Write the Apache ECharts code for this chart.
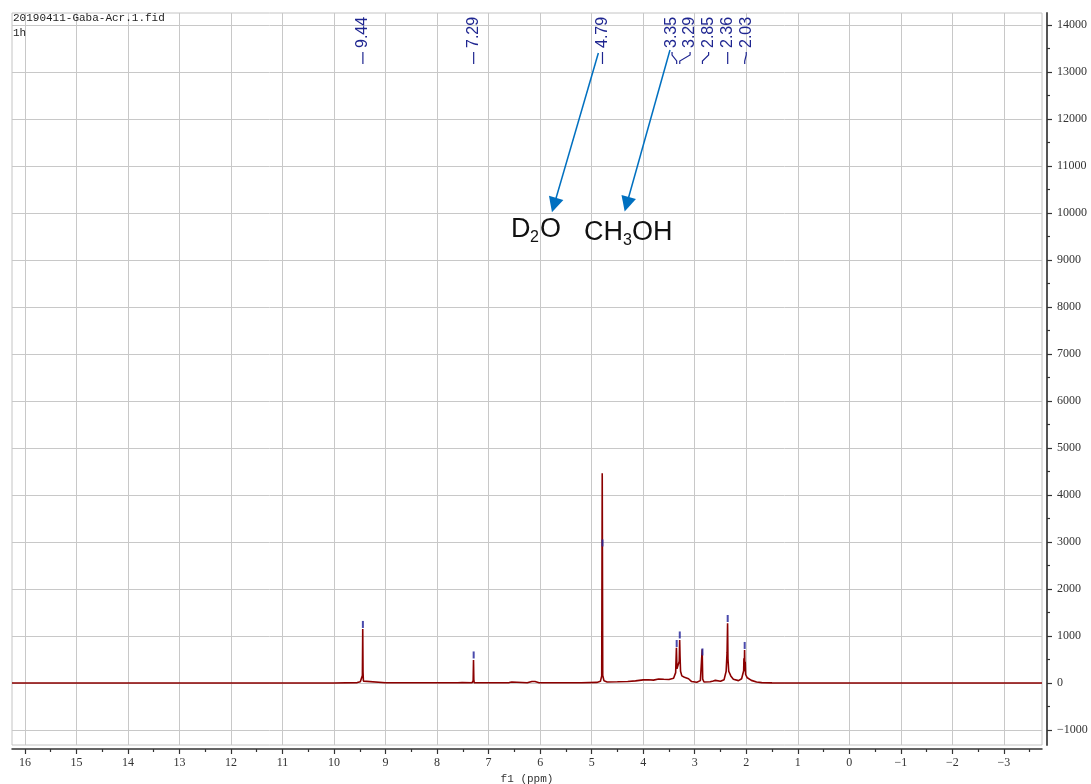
<!DOCTYPE html>
<html><head><meta charset="utf-8">
<script src="https://cdn.jsdelivr.net/npm/echarts@6/dist/echarts.min.js"></script>
<style>html,body{margin:0;padding:0;background:#fff}#c{width:1091px;height:784px}</style>
</head><body><div id="c"></div>
<script>
// spectrum (chemical shift in ppm, intensity)
const shift = [16.25,10.00,9.55,9.49,9.46,9.45,9.443,9.437,9.43,9.40,9.00,7.60,7.515,7.505,7.495,7.32,7.30,7.293,7.287,7.28,7.00,6.60,6.55,6.54,6.25,6.16,6.13,6.10,6.02,5.20,4.90,4.83,4.805,4.795,4.785,4.76,4.70,4.50,4.30,4.15,4.00,3.90,3.80,3.70,3.60,3.50,3.41,3.37,3.355,3.345,3.33,3.30,3.292,3.285,3.275,3.25,3.20,3.12,3.06,2.96,2.89,2.855,2.845,2.82,2.70,2.64,2.60,2.57,2.50,2.43,2.39,2.372,2.362,2.355,2.34,2.30,2.25,2.15,2.09,2.05,2.045,2.038,2.032,2.025,2.02,2.012,1.98,1.90,1.80,1.70,1.50,-3.74];
const intensity = [0,0,8,25,60,160,1150,220,40,8,3,3,8,40,8,6,50,490,70,8,5,8,20,5,5,30,55,30,6,5,12,35,150,4460,160,45,22,25,30,45,65,68,60,85,78,75,100,220,750,300,280,460,915,570,250,150,120,90,30,15,50,717,80,20,25,40,55,30,35,70,250,650,1270,520,250,150,80,50,90,260,525,250,700,280,453,180,110,55,20,8,2,0];
// peak picking
const peakLabels = ['9.44','7.29','4.79','3.35','3.29','2.85','2.36','2.03'];
const peakShift = [9.44,7.29,4.79,3.35,3.29,2.85,2.36,2.03];
const labelShift = [9.44,7.29,4.79,3.44,3.09,2.73,2.36,2.00];
const markerHeight = [1245,596,2979,840,1021,660,1372,798];
// axes
const xTicks = [16,15,14,13,12,11,10,9,8,7,6,5,4,3,2,1,0,-1,-2,-3];
const xMinor = [15.5,14.5,13.5,12.5,11.5,10.5,9.5,8.5,7.5,6.5,5.5,4.5,3.5,2.5,1.5,0.5,-0.5,-1.5,-2.5,-3.5];
const yTicks = [-1000,0,1000,2000,3000,4000,5000,6000,7000,8000,9000,10000,11000,12000,13000,14000];
const yMinor = [-500,500,1500,2500,3500,4500,5500,6500,7500,8500,9500,10500,11500,12500,13500];
const fileName = '20190411-Gaba-Acr.1.fid';
const nucleus = '1h';
const xName = 'f1 (ppm)';

const X_MIN = -3.74, X_MAX = 16.25, Y_MIN = -1320, Y_MAX = 14255;
const fmt = v => v < 0 ? '\u2212' + Math.abs(v) : String(v);
const serif = 'Liberation Serif';
const blue = '#0070c0';
const navy = '#1e2590';

const chart = echarts.init(document.getElementById('c'), null, {renderer: 'canvas'});
const spec = shift.map((s, i) => [s, intensity[i]]);
const markers = peakShift.map((s, i) => [s, markerHeight[i]]);

const xBase = {type: 'value', min: X_MIN, max: X_MAX, inverse: true, position: 'bottom', offset: 4, gridIndex: 0};
const yBase = {type: 'value', min: Y_MIN, max: Y_MAX, position: 'right', offset: 5, gridIndex: 0};

chart.setOption({
  animation: false,
  backgroundColor: '#fff',
  grid: {left: 12, right: 49, top: 13, bottom: 39, show: true, borderColor: '#c4c4c4', borderWidth: 1, containLabel: false, outerBoundsMode: 'none'},
  xAxis: [
    Object.assign({}, xBase, {
      axisLine: {show: true, onZero: false, lineStyle: {color: '#333', width: 1.5}},
      axisTick: {show: true, inside: false, length: 5, customValues: xTicks, lineStyle: {color: '#333', width: 1.2}},
      axisLabel: {show: true, customValues: xTicks, formatter: fmt, fontFamily: serif, fontSize: 12, color: '#333', margin: 8},
      splitLine: {show: true, lineStyle: {color: '#c8c8c8', width: 1}},
      name: xName, nameLocation: 'middle', nameGap: 21,
      nameTextStyle: {fontFamily: 'Liberation Mono', fontSize: 11, color: '#333'}
    }),
    Object.assign({}, xBase, {
      axisLine: {show: false, onZero: false},
      axisTick: {show: true, inside: false, length: 3, customValues: xMinor, lineStyle: {color: '#333', width: 1.2}},
      axisLabel: {show: false},
      splitLine: {show: false}
    })
  ],
  yAxis: [
    Object.assign({}, yBase, {
      axisLine: {show: true, onZero: false, lineStyle: {color: '#555', width: 2}},
      axisTick: {show: true, inside: false, length: 5, customValues: yTicks, lineStyle: {color: '#333', width: 1.2}},
      axisLabel: {show: true, customValues: yTicks, formatter: fmt, fontFamily: serif, fontSize: 12, color: '#333', margin: 10},
      splitLine: {show: true, lineStyle: {color: '#c8c8c8', width: 1}}
    }),
    Object.assign({}, yBase, {
      axisLine: {show: false, onZero: false},
      axisTick: {show: true, inside: false, length: 3, customValues: yMinor, lineStyle: {color: '#333', width: 1.2}},
      axisLabel: {show: false},
      splitLine: {show: false}
    })
  ],
  series: [
    {
      type: 'line', xAxisIndex: 0, yAxisIndex: 0, data: spec, showSymbol: false, symbol: 'none',
      sampling: null, lineStyle: {color: '#8b0000', width: 1.6}, z: 3,
      markLine: {
        silent: true, symbol: ['none', 'triangle'], symbolSize: 15, animation: false,
        label: {show: false},
        lineStyle: {color: blue, width: 1.5, type: 'solid'},
        data: [
          [{coord: [4.87, 13404]}, {coord: [5.73, 10170]}],
          [{coord: [3.48, 13468]}, {coord: [4.32, 10185]}]
        ]
      }
    },
    {
      type: 'scatter', xAxisIndex: 0, yAxisIndex: 0, data: markers, symbol: 'rect', symbolSize: [2, 7],
      itemStyle: {color: '#2a2a9e', opacity: 0.85}, z: 4, silent: true
    }
  ]
});

function drawAnnotations() {
  const g = [];
  const px = v => chart.convertToPixel({xAxisIndex: 0}, v);
  peakLabels.forEach((t, i) => {
    const lx = px(labelShift[i]);
    const pk = px(peakShift[i]);
    g.push({type: 'polyline', silent: true, shape: {points: [[lx, 52], [lx, 55], [pk, 61], [pk, 64]]},
      style: {stroke: navy, lineWidth: 1.2, fill: null}});
    g.push({type: 'text', silent: true, x: lx, y: 48, rotation: Math.PI / 2,
      style: {text: t, fill: navy, font: '16px "Liberation Sans"', align: 'left', verticalAlign: 'middle'}});
  });
  g.push({type: 'text', silent: true, x: 13, y: 18, style: {text: fileName, fill: '#222', font: '11px "Liberation Mono"', align: 'left', verticalAlign: 'middle'}});
  g.push({type: 'text', silent: true, x: 13, y: 33, style: {text: nucleus, fill: '#222', font: '11px "Liberation Mono"', align: 'left', verticalAlign: 'middle'}});
  const big = '27px "Liberation Sans"', small = '16px "Liberation Sans"';
  const parts = [
    ['D', 511, 230, big], ['2', 530, 238, small], ['O', 540, 230, big],
    ['CH', 584, 233, big], ['3', 623, 241, small], ['OH', 632, 233, big]
  ];
  parts.forEach(p => g.push({type: 'text', silent: true, x: p[1], y: p[2],
    style: {text: p[0], fill: '#111', font: p[3], align: 'left', verticalAlign: 'middle'}}));
  chart.setOption({graphic: g});
}
drawAnnotations();
</script>
</body></html>
